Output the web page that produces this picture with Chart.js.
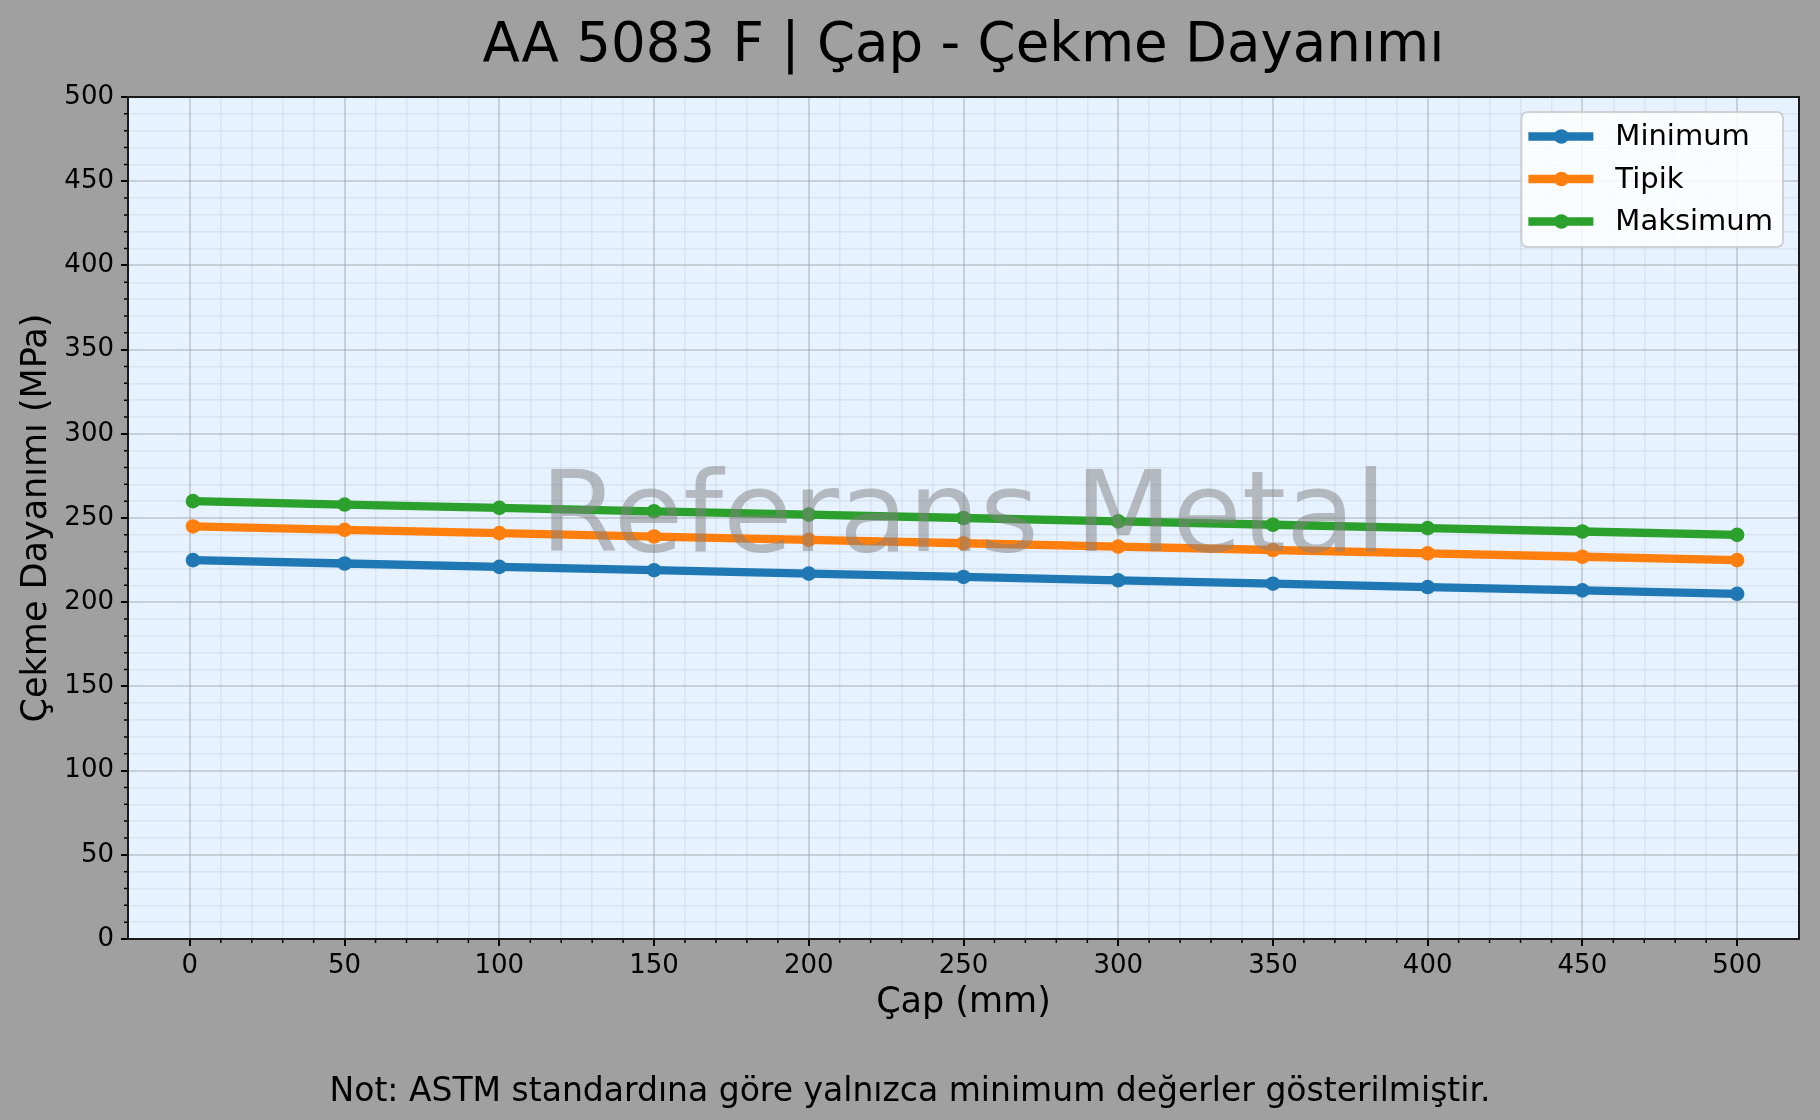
<!DOCTYPE html>
<html lang="tr">
<head>
<meta charset="utf-8">
<title>AA 5083 F | Çap - Çekme Dayanımı</title>
<script src="https://cdn.jsdelivr.net/npm/chart.js@4.4.1/dist/chart.umd.min.js"></script>
<style>
    html, body { margin: 0; padding: 0; background: #a0a0a0; }
    #wrap { width: 1820px; height: 1120px; position: relative; }
</style>
</head>
<body>
<div id="wrap"><canvas id="strengthChart"></canvas></div>
<script>
// Chart data
const diameters = [1, 50, 100, 150, 200, 250, 300, 350, 400, 450, 500];
const minimumValues = [225, 223, 221, 219, 217, 215, 213, 211, 209, 207, 205];
const typicalValues = [245, 243, 241, 239, 237, 235, 233, 231, 229, 227, 225];
const maximumValues = [260, 258, 256, 254, 252, 250, 248, 246, 244, 242, 240];
const seriesLabels = ['Minimum', 'Tipik', 'Maksimum'];
const seriesColors = ['#1f77b4', '#ff7f0e', '#2ca02c'];

const titleText = 'AA 5083 F | Çap - Çekme Dayanımı';
const xTitle = 'Çap (mm)';
const yTitle = 'Çekme Dayanımı (MPa)';
const noteText = 'Not: ASTM standardına göre yalnızca minimum değerler gösterilmiştir.';
const watermarkText = 'Referans Metal';

const FONT = "'DejaVu Sans', 'Liberation Sans', sans-serif";
const MAJOR_STEP = 50;

const isMajor = v => Math.abs(v % MAJOR_STEP) < 1e-9;
const inRange = v => v >= 0 && v <= 500;

function gridColor(ctx) {
    const v = ctx.tick ? ctx.tick.value : 0;
    if (!inRange(v)) return 'rgba(0,0,0,0)';
    return isMajor(v) ? 'rgba(128,128,128,0.3)' : 'rgba(128,128,128,0.12)';
}
function gridWidth(ctx) {
    const v = ctx.tick ? ctx.tick.value : 0;
    return isMajor(v) ? 2 : 1.5;
}
function tickColor(ctx) {
    const v = ctx.tick ? ctx.tick.value : 0;
    return (inRange(v) && isMajor(v)) ? '#000' : 'rgba(0,0,0,0)';
}
function tickLabel(value) {
    return (inRange(value) && isMajor(value)) ? String(value) : '';
}

// Backgrounds, minor ticks, frame, watermark and legend box
const decorPlugin = {
    id: 'decor',
    beforeDraw(chart) {
        const { ctx, chartArea: a } = chart;
        ctx.save();
        ctx.fillStyle = '#a0a0a0';
        ctx.fillRect(0, 0, chart.width, chart.height);
        ctx.fillStyle = '#e6f2ff';
        ctx.fillRect(a.left, a.top, a.right - a.left, a.bottom - a.top);
        ctx.restore();
    },
    afterDatasetsDraw(chart) {
        const { ctx, chartArea: a } = chart;
        ctx.save();
        ctx.font = '113px ' + FONT;
        ctx.fillStyle = 'rgba(128,128,128,0.5)';
        ctx.textAlign = 'center';
        ctx.textBaseline = 'alphabetic';
        ctx.fillText(watermarkText, (a.left + a.right) / 2, (a.top + a.bottom) / 2 + 33);
        ctx.restore();
    },
    afterDraw(chart) {
        const { ctx, chartArea: a } = chart;
        const xs = chart.scales.x, ys = chart.scales.y;
        ctx.save();
        // minor ticks
        ctx.strokeStyle = '#000';
        ctx.lineWidth = 1.5;
        ctx.beginPath();
        xs.ticks.forEach(t => {
            if (!inRange(t.value) || isMajor(t.value)) return;
            const px = xs.getPixelForValue(t.value);
            ctx.moveTo(px, a.bottom);
            ctx.lineTo(px, a.bottom + 4);
        });
        ys.ticks.forEach(t => {
            if (!inRange(t.value) || isMajor(t.value)) return;
            const py = ys.getPixelForValue(t.value);
            ctx.moveTo(a.left, py);
            ctx.lineTo(a.left - 4, py);
        });
        ctx.stroke();

        // axes frame
        ctx.lineWidth = 2;
        ctx.strokeStyle = '#1a1a1a';
        ctx.strokeRect(a.left, a.top, a.right - a.left, a.bottom - a.top);

        // legend (upper right, inside the plot)
        const ds = chart.data.datasets;
        ctx.font = '29px ' + FONT;
        const maxW = Math.max(...ds.map(d => ctx.measureText(d.label).width));
        const textOff = 94, rowH = 42.5;
        const boxW = textOff + maxW + 10;
        const boxH = 135;
        const bx = a.right - 16 - boxW;
        const by = a.top + 15;
        ctx.beginPath();
        ctx.roundRect(bx, by, boxW, boxH, 6);
        ctx.fillStyle = 'rgba(255,255,255,0.8)';
        ctx.fill();
        ctx.strokeStyle = 'rgba(204,204,204,0.9)';
        ctx.lineWidth = 2;
        ctx.stroke();
        ds.forEach((d, i) => {
            const cy = by + 24.5 + i * rowH;
            ctx.strokeStyle = d.borderColor;
            ctx.lineWidth = 8.3;
            ctx.beginPath();
            ctx.moveTo(bx + 7, cy);
            ctx.lineTo(bx + 72, cy);
            ctx.stroke();
            ctx.fillStyle = d.borderColor;
            ctx.beginPath();
            ctx.arc(bx + 40, cy, 7.3, 0, Math.PI * 2);
            ctx.fill();
            ctx.fillStyle = '#000';
            ctx.textAlign = 'left';
            ctx.textBaseline = 'middle';
            ctx.fillText(d.label, bx + textOff, cy + 1);
        });
        ctx.restore();
    }
};

function makeDataset(label, values, color) {
    return {
        label: label,
        data: diameters.map((d, i) => ({ x: d, y: values[i] })),
        borderColor: color,
        backgroundColor: color,
        borderWidth: 8.3,
        pointRadius: 7.3,
        pointHoverRadius: 7.3,
        pointBorderWidth: 0,
        pointBackgroundColor: color,
        tension: 0,
        fill: false
    };
}

function initializeChart() {
    const canvas = document.getElementById('strengthChart');
    new Chart(canvas, {
        type: 'line',
        data: {
            datasets: [
                makeDataset(seriesLabels[0], minimumValues, seriesColors[0]),
                makeDataset(seriesLabels[1], typicalValues, seriesColors[1]),
                makeDataset(seriesLabels[2], maximumValues, seriesColors[2])
            ]
        },
        options: {
            responsive: true,
            maintainAspectRatio: false,
            devicePixelRatio: 1,
            animation: false,
            layout: { padding: { left: 21, right: 21, top: 0, bottom: 0 } },
            plugins: {
                legend: { display: false },
                tooltip: { enabled: false },
                title: {
                    display: true,
                    fullSize: false,
                    text: titleText,
                    color: '#000',
                    font: { family: FONT, size: 54.6, weight: 'normal' },
                    padding: { top: 14.5, bottom: 17 }
                },
                subtitle: {
                    display: true,
                    position: 'bottom',
                    text: noteText,
                    color: '#000',
                    font: { family: FONT, size: 33, weight: 'normal' },
                    padding: { top: 21, bottom: 7.4 }
                }
            },
            scales: {
                x: {
                    type: 'linear',
                    min: -20,
                    max: 520,
                    afterFit: s => { s.height = 113; },
                    ticks: {
                        stepSize: 10,
                        autoSkip: false,
                        maxRotation: 0,
                        padding: 4.5,
                        color: '#000',
                        font: { family: FONT, size: 26 },
                        callback: tickLabel
                    },
                    grid: {
                        color: gridColor,
                        lineWidth: gridWidth,
                        tickColor: tickColor,
                        tickWidth: 2,
                        tickLength: 7
                    },
                    border: { display: true, color: '#1a1a1a', width: 2 },
                    title: {
                        display: true,
                        text: xTitle,
                        color: '#000',
                        font: { family: FONT, size: 35 },
                        padding: { top: 0, bottom: 28 }
                    }
                },
                y: {
                    type: 'linear',
                    min: 0,
                    max: 500,
                    afterFit: s => { s.width = 107; },
                    ticks: {
                        stepSize: 10,
                        autoSkip: false,
                        padding: 7,
                        color: '#000',
                        font: { family: FONT, size: 26 },
                        callback: tickLabel
                    },
                    grid: {
                        color: gridColor,
                        lineWidth: gridWidth,
                        tickColor: tickColor,
                        tickWidth: 2,
                        tickLength: 7
                    },
                    border: { display: true, color: '#1a1a1a', width: 2 },
                    title: {
                        display: true,
                        text: yTitle,
                        color: '#000',
                        font: { family: FONT, size: 35 },
                        padding: { top: -5, bottom: 0 }
                    }
                }
            }
        },
        plugins: [decorPlugin]
    });
}

document.addEventListener('DOMContentLoaded', initializeChart);
</script>
</body>
</html>
